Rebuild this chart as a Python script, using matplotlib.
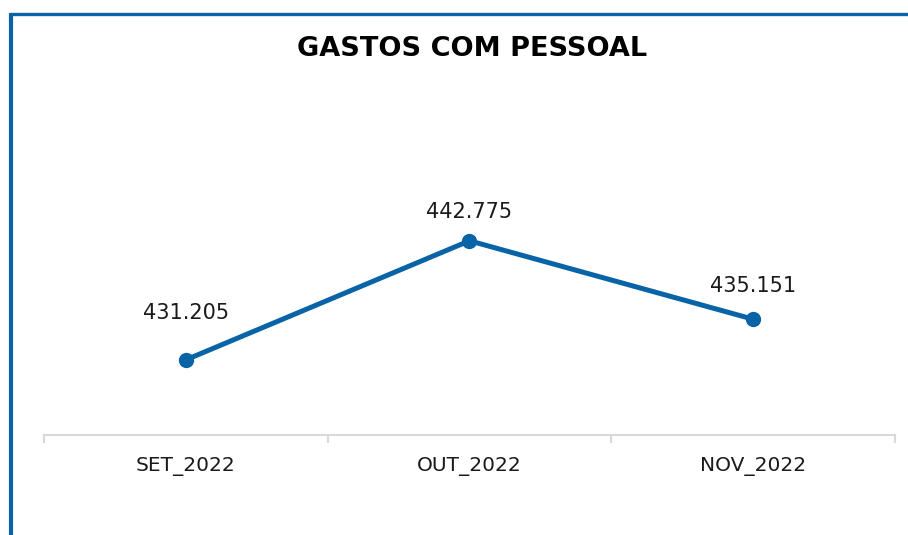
import matplotlib
matplotlib.use("Agg")
import matplotlib.pyplot as plt
from matplotlib.lines import Line2D

categories = ["SET_2022", "OUT_2022", "NOV_2022"]
values = [431.205, 442.775, 435.151]
value_labels = ["431.205", "442.775", "435.151"]
title = "GASTOS COM PESSOAL"

label_offsets = [34, 21, 24]  # points above marker

W, H = 908, 535
fig = plt.figure(figsize=(W / 100, H / 100), dpi=100)
fig.patch.set_facecolor("white")

blue = "#0864A6"

# frame border (top and left visible)
fig.add_artist(Line2D([9.5 / W, 1.0], [1 - 14 / H, 1 - 14 / H], color=blue, lw=2.4,
                      transform=fig.transFigure, solid_capstyle="butt"))
fig.add_artist(Line2D([10.5 / W, 10.5 / W], [0, 1 - 12.8 / H], color=blue, lw=3.0,
                      transform=fig.transFigure, solid_capstyle="butt"))

ax_left, ax_right = 44, 895
ax_bottom, ax_top = 435, 207.6
ax = fig.add_axes([ax_left / W, 1 - ax_bottom / H, (ax_right - ax_left) / W, (ax_bottom - ax_top) / H])
x = list(range(len(categories)))
ax.plot(x, values, color=blue, lw=3.6, marker="o", markersize=10, solid_capstyle="round", zorder=3)
ax.set_xlim(-0.5, len(categories) - 0.5)
ax.set_ylim(423.9, 446.0)

for xi, v, lab, off in zip(x, values, value_labels, label_offsets):
    ax.annotate(lab, (xi, v), xytext=(0, off), textcoords="offset points",
                ha="center", va="center", fontsize=15, color="#1a1a1a")

for s in ["top", "right", "left"]:
    ax.spines[s].set_visible(False)
ax.spines["bottom"].set_color("#D9D9D9")
ax.spines["bottom"].set_linewidth(1.5)
ax.set_yticks([])
ax.set_xticks([-0.5, 0.5, 1.5, 2.5])
ax.set_xticklabels([])
ax.set_xticks(x, minor=True)
ax.set_xticklabels(categories, minor=True, fontsize=14.5, color="#1a1a1a")
ax.tick_params(axis="x", which="major", length=6, width=1.5, color="#D9D9D9", direction="out")
ax.tick_params(axis="x", which="minor", length=0, pad=16)
ax.patch.set_alpha(0)

fig.text(472 / W, 1 - 49 / H, title, ha="center", va="center", fontsize=19.5, fontweight="bold", color="black")

fig.savefig("out.png", dpi=100, facecolor="white")
